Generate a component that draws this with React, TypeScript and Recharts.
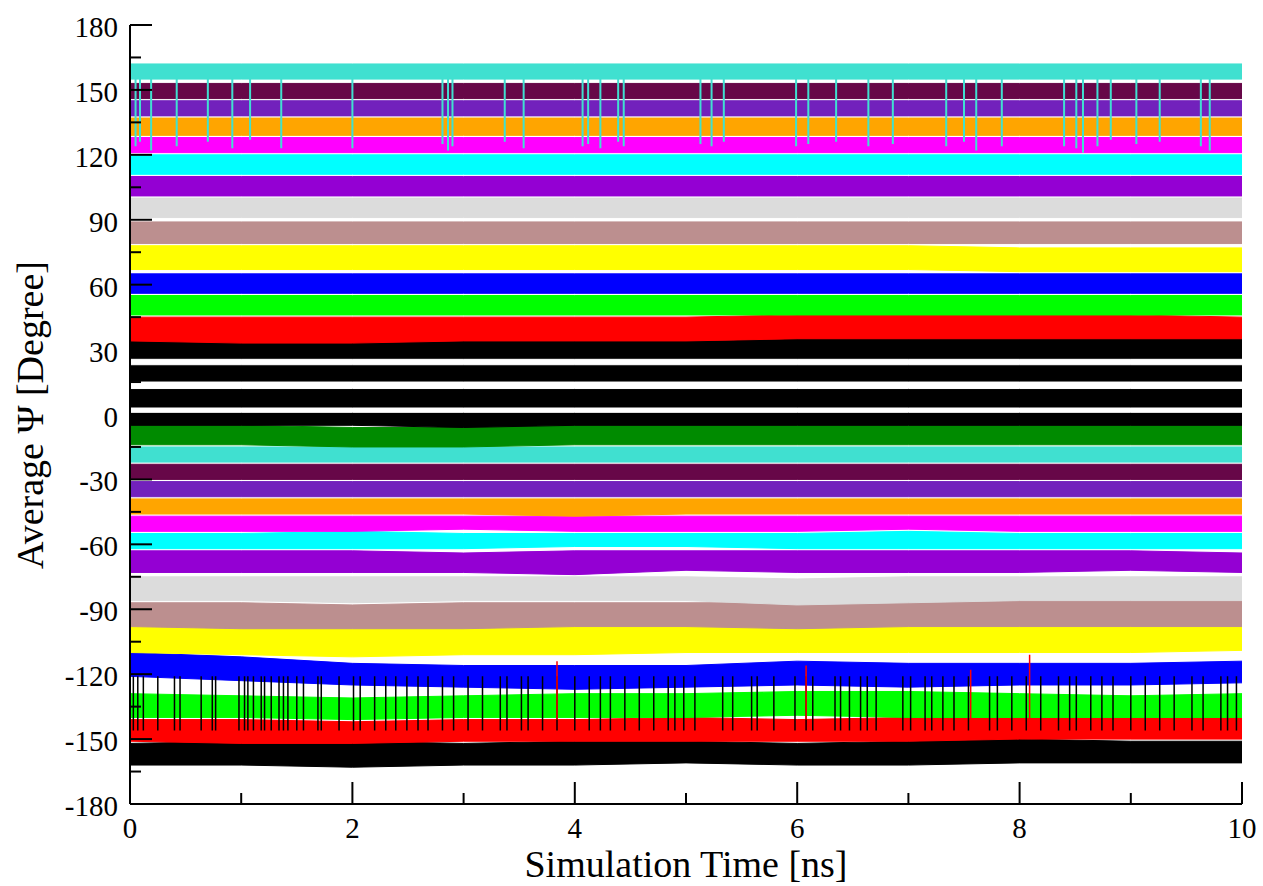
import React from "react";
import { ComposedChart, Area, Line, XAxis, YAxis } from "recharts";

const TIME = [0, 1, 2, 3, 4, 5, 6, 7, 8, 9, 10];

// bands listed bottom -> top (drawing order)
const BAND_COLORS = [
  "#000000", "#ff0000", "#00ff00", "#0000ff", "#ffff00", "#bc8f8f", "#dcdcdc", "#9400d3",
  "#00ffff", "#ff00ff", "#ffa500", "#7221bc", "#670748", "#40e0d0", "#008b00", "#000000",
  "#ffffff", "#ffffff", "#ffffff", "#ff0000", "#00ff00", "#0000ff", "#ffff00", "#bc8f8f",
  "#dcdcdc", "#9400d3", "#00ffff", "#ff00ff", "#ffa500", "#7221bc", "#670748", "#40e0d0",
];

const BAND_LOW = [
  [-162, -162, -163, -162, -162, -161, -162, -162, -161, -161, -161],
  [-151, -152, -152, -151, -151, -151, -151, -151, -150, -150, -150],
  [-140, -140, -141, -140, -140, -140, -139, -140, -140, -140, -140],
  [-121, -123, -125, -126, -127, -126, -125, -126, -125, -125, -124],
  [-110, -111, -112, -111, -111, -110, -110, -110, -110, -110, -109],
  [-98, -99, -99, -99, -98, -98, -99, -98, -98, -98, -98],
  [-86, -86, -87, -86, -86, -86, -88, -87, -86, -86, -86],
  [-73, -73, -73, -73, -74, -72, -73, -73, -73, -72, -73],
  [-62, -62, -62, -62, -61, -61, -62, -62, -62, -62, -62],
  [-54, -54, -54, -53, -54, -54, -54, -53, -54, -54, -54],
  [-46, -46, -46, -46, -47, -46, -46, -46, -46, -46, -46],
  [-38, -38, -38, -38, -38, -38, -38, -38, -38, -38, -38],
  [-30, -30, -30, -30, -30, -30, -30, -30, -30, -30, -30],
  [-22, -22, -22, -22, -22, -22, -22, -22, -22, -22, -22],
  [-14, -14, -15, -15, -14, -14, -14, -14, -14, -14, -14],
  [-5, -5, -5, -6, -5, -5, -5, -5, -5, -5, -5],
  [1, 1, 1, 1, 1, 1, 1, 1, 1, 1, 1],
  [12, 12, 12, 12, 12, 12, 12, 12, 12, 12, 12],
  [23, 23, 23, 23, 23, 23, 23, 23, 23, 23, 23],
  [34, 33, 33, 34, 34, 34, 35, 35, 35, 35, 35],
  [46, 46, 46, 46, 46, 46, 46, 46, 46, 46, 46],
  [56, 56, 56, 56, 56, 56, 56, 56, 56, 56, 56],
  [67, 67, 67, 67, 67, 67, 67, 67, 66, 66, 66],
  [79, 79, 79, 79, 79, 79, 79, 79, 79, 79, 79],
  [91, 91, 91, 91, 91, 91, 91, 91, 91, 91, 91],
  [101, 101, 101, 101, 101, 101, 101, 101, 101, 101, 101],
  [111, 111, 111, 111, 111, 111, 111, 111, 111, 111, 111],
  [121, 121, 121, 121, 121, 121, 121, 121, 121, 121, 121],
  [129, 129, 129, 129, 129, 129, 129, 129, 129, 129, 129],
  [138, 138, 138, 138, 138, 138, 138, 138, 138, 138, 138],
  [146, 146, 146, 146, 146, 146, 146, 146, 146, 146, 146],
  [155, 155, 155, 155, 155, 155, 155, 155, 155, 155, 155],
];

const BAND_HIGH = [
  [-152, -151, -151, -152, -151, -151, -152, -151, -150, -151, -151],
  [-141, -141, -142, -141, -141, -140, -141, -140, -140, -140, -140],
  [-129, -130, -131, -130, -129, -129, -128, -128, -129, -130, -129],
  [-110, -112, -115, -116, -116, -116, -114, -115, -115, -115, -114],
  [-98, -98, -99, -98, -98, -97, -97, -97, -97, -97, -97],
  [-87, -87, -88, -87, -87, -87, -87, -86, -86, -86, -86],
  [-75, -75, -75, -75, -75, -75, -76, -75, -75, -75, -75],
  [-63, -63, -63, -64, -63, -63, -63, -63, -63, -63, -64],
  [-55, -55, -54, -55, -55, -55, -55, -54, -55, -55, -55],
  [-47, -47, -47, -47, -47, -47, -47, -47, -47, -47, -47],
  [-39, -39, -39, -39, -39, -39, -39, -39, -39, -39, -39],
  [-31, -31, -31, -31, -31, -31, -31, -31, -31, -31, -31],
  [-23, -23, -23, -23, -23, -23, -23, -23, -23, -23, -23],
  [-15, -15, -15, -15, -15, -15, -15, -15, -15, -15, -15],
  [-5, -5, -6, -6, -5, -5, -5, -5, -5, -5, -5],
  [34, 34, 34, 34, 34, 34, 35, 35, 35, 35, 35],
  [3, 3, 3, 3, 3, 3, 3, 3, 3, 3, 3],
  [15, 15, 15, 15, 15, 15, 15, 15, 15, 15, 15],
  [25.5, 25.5, 25.5, 25.5, 25.5, 25.5, 25.5, 25.5, 25.5, 25.5, 25.5],
  [45, 45, 45, 45, 45, 45, 46, 46, 46, 46, 45],
  [55, 55, 55, 55, 55, 55, 55, 55, 55, 55, 55],
  [65, 65, 65, 65, 65, 65, 65, 65, 65, 65, 65],
  [78, 78, 78, 78, 78, 78, 78, 78, 77, 77, 77],
  [89, 89, 89, 89, 89, 89, 89, 89, 89, 89, 89],
  [100, 100, 100, 100, 100, 100, 100, 100, 100, 100, 100],
  [110, 110, 110, 110, 110, 110, 110, 110, 110, 110, 110],
  [120, 120, 120, 120, 120, 120, 120, 120, 120, 120, 120],
  [128, 128, 128, 128, 128, 128, 128, 128, 128, 128, 128],
  [137, 137, 137, 137, 137, 137, 137, 137, 137, 137, 137],
  [145, 145, 145, 145, 145, 145, 145, 145, 145, 145, 145],
  [153, 153, 153, 153, 153, 153, 153, 153, 153, 153, 153],
  [162, 162, 162, 162, 162, 162, 162, 162, 162, 162, 162],
];

// short excursions of the top turquoise series
const TURQ_SPIKE_TIMES = [
  0.05, 0.09, 0.19, 0.42, 0.7, 0.92, 1.08, 1.36, 2.0, 2.81, 2.86, 2.9, 3.37, 3.54, 4.07, 4.12,
  4.23, 4.39, 4.44, 5.13, 5.23, 5.34, 5.99, 6.1, 6.35, 6.64, 6.86, 7.34, 7.5, 7.61, 7.84, 8.4,
  8.51, 8.57, 8.7, 8.82, 9.05, 9.26, 9.63, 9.71,
];
const TURQ_SPIKE_ENDS = [
  124, 126, 122, 124, 126, 123, 127, 123, 123, 125, 122, 124, 126, 123, 124, 125,
  123, 126, 124, 125, 124, 126, 124, 125, 126, 124, 125, 124, 126, 122, 124, 124,
  123, 121, 124, 127, 125, 126, 124, 122,
];
const TURQ_SPIKE_FROM = 155;

// excursions of the bottom black series
const BLACK_SPIKE_TIMES = [
  0.03, 0.07, 0.12, 0.25, 0.4, 0.45, 0.64, 0.74, 0.77, 0.98, 1.03, 1.06, 1.11, 1.18, 1.21, 1.27,
  1.34, 1.38, 1.42, 1.5, 1.56, 1.69, 1.72, 1.88, 2.01, 2.07, 2.2, 2.3, 2.39, 2.49, 2.59, 2.68,
  2.81, 2.91, 3.04, 3.17, 3.33, 3.39, 3.52, 3.58, 3.71, 3.84, 4.0, 4.13, 4.23, 4.32, 4.45, 4.58,
  4.71, 4.84, 4.9, 4.98, 5.08, 5.33, 5.42, 5.59, 5.64, 5.79, 5.98, 6.08, 6.14, 6.34, 6.39, 6.47,
  6.57, 6.63, 6.71, 6.95, 7.02, 7.15, 7.21, 7.31, 7.41, 7.54, 7.73, 7.8, 7.93, 8.06, 8.19, 8.35,
  8.45, 8.51, 8.64, 8.74, 8.84, 9.0, 9.13, 9.26, 9.39, 9.55, 9.65, 9.81, 9.87, 9.95,
];
const BLACK_SPIKE_FROM = -146;
const BLACK_SPIKE_TO = -121;

// a few red excursions
const RED_SPIKE_TIMES = [3.84, 6.08, 7.56, 8.09];
const RED_SPIKE_ENDS = [-114, -116, -118, -111];
const RED_SPIKE_FROM = -141;

const X_TICKS = [0, 1, 2, 3, 4, 5, 6, 7, 8, 9, 10];
const Y_TICKS = [
  -180, -165, -150, -135, -120, -105, -90, -75, -60, -45, -30, -15, 0,
  15, 30, 45, 60, 75, 90, 105, 120, 135, 150, 165, 180,
];

const FONT = '"Liberation Serif", "Times New Roman", serif';
const MARGIN = 12;

const rows = TIME.map((t, i) => {
  const row: any = { t };
  BAND_LOW.forEach((lo, b) => {
    row[`b${b}`] = [lo[i], BAND_HIGH[b][i]];
  });
  return row;
});

const spikeData = (times: number[], from: number, ends: number[]) =>
  times.flatMap((t, i) => [
    { t, v: from },
    { t, v: ends[i] },
    { t, v: null },
  ]);

const turqSpikes = spikeData(TURQ_SPIKE_TIMES, TURQ_SPIKE_FROM, TURQ_SPIKE_ENDS);
const blackSpikes = spikeData(
  BLACK_SPIKE_TIMES,
  BLACK_SPIKE_FROM,
  BLACK_SPIKE_TIMES.map(() => BLACK_SPIKE_TO)
);
const redSpikes = spikeData(RED_SPIKE_TIMES, RED_SPIKE_FROM, RED_SPIKE_ENDS);

// inward ticks, grace style
const LeftTick = (props: any) => {
  const { x, y, payload } = props;
  const ax = x + MARGIN;
  const major = payload.value % 30 === 0;
  return (
    <g>
      <line x1={ax} x2={ax + (major ? 22 : 11)} y1={y} y2={y} stroke="#000" strokeWidth={2} />
      {major && (
        <text x={ax - 12} y={y + 12} textAnchor="end" fontFamily={FONT} fontSize={29} fill="#000">
          {payload.value}
        </text>
      )}
    </g>
  );
};

const RightTick = (props: any) => {
  const { x, y, payload } = props;
  const ax = x - MARGIN;
  const major = payload.value % 30 === 0;
  return <line x1={ax} x2={ax - (major ? 22 : 11)} y1={y} y2={y} stroke="#000" strokeWidth={2} />;
};

const BottomTick = (props: any) => {
  const { x, y, payload } = props;
  const ay = y - MARGIN;
  const major = payload.value % 2 === 0;
  return (
    <g>
      <line x1={x} x2={x} y1={ay} y2={ay - (major ? 22 : 11)} stroke="#000" strokeWidth={2} />
      {major && (
        <text x={x} y={ay + 34} textAnchor="middle" fontFamily={FONT} fontSize={29} fill="#000">
          {payload.value}
        </text>
      )}
    </g>
  );
};

const TopTick = (props: any) => {
  const { x, y, payload } = props;
  const ay = y + MARGIN;
  const major = payload.value % 2 === 0;
  return <line x1={x} x2={x} y1={ay} y2={ay + (major ? 22 : 11)} stroke="#000" strokeWidth={2} />;
};

const frame = { stroke: "#000", strokeWidth: 2 };

export default function App() {
  return (
    <div style={{ position: "absolute", left: 0, top: 0, width: 1263, height: 886, background: "#fff" }}>
      <ComposedChart width={1263} height={886} data={rows} margin={{ top: 25, right: 21, bottom: 0, left: 0 }}>
        {BAND_COLORS.map((c, b) => (
          <Area
            key={`band-${b}`}
            type="linear"
            dataKey={`b${b}`}
            stroke={c}
            strokeWidth={1}
            fill={c}
            fillOpacity={1}
            dot={false}
            activeDot={false}
            isAnimationActive={false}
          />
        ))}
        <Line
          data={blackSpikes}
          dataKey="v"
          stroke="#000"
          strokeWidth={1.5}
          dot={false}
          activeDot={false}
          connectNulls={false}
          isAnimationActive={false}
        />
        <Line
          data={redSpikes}
          dataKey="v"
          stroke="#ff0000"
          strokeWidth={1.5}
          dot={false}
          activeDot={false}
          connectNulls={false}
          isAnimationActive={false}
        />
        <Line
          data={turqSpikes}
          dataKey="v"
          stroke="#40e0d0"
          strokeWidth={2}
          dot={false}
          activeDot={false}
          connectNulls={false}
          isAnimationActive={false}
        />
        <XAxis
          dataKey="t"
          type="number"
          domain={[0, 10]}
          ticks={X_TICKS}
          interval={0}
          height={82}
          tickSize={0}
          tickMargin={MARGIN}
          axisLine={frame}
          tick={BottomTick}
          allowDataOverflow
        />
        <XAxis
          xAxisId="top"
          orientation="top"
          dataKey="t"
          type="number"
          domain={[0, 10]}
          ticks={X_TICKS}
          interval={0}
          height={0}
          tickSize={0}
          tickMargin={MARGIN}
          axisLine={frame}
          tick={TopTick}
          allowDataOverflow
        />
        <YAxis
          type="number"
          domain={[-180, 180]}
          ticks={Y_TICKS}
          interval={0}
          width={130}
          tickSize={0}
          tickMargin={MARGIN}
          axisLine={frame}
          tick={LeftTick}
          allowDataOverflow
        />
        <YAxis
          yAxisId="right"
          orientation="right"
          type="number"
          domain={[-180, 180]}
          ticks={Y_TICKS}
          interval={0}
          width={0}
          tickSize={0}
          tickMargin={MARGIN}
          axisLine={frame}
          tick={RightTick}
          allowDataOverflow
        />
      </ComposedChart>
      <div
        style={{
          position: "absolute",
          left: 686,
          top: 845,
          transform: "translateX(-50%)",
          fontFamily: FONT,
          fontSize: 38,
          lineHeight: 1,
          whiteSpace: "nowrap",
          color: "#000",
        }}
      >
        Simulation Time [ns]
      </div>
      <div
        style={{
          position: "absolute",
          left: 30,
          top: 415,
          transform: "translate(-50%, -50%) rotate(-90deg)",
          fontFamily: FONT,
          fontSize: 38,
          lineHeight: 1,
          whiteSpace: "nowrap",
          color: "#000",
        }}
      >
        Average Ψ [Degree]
      </div>
    </div>
  );
}
